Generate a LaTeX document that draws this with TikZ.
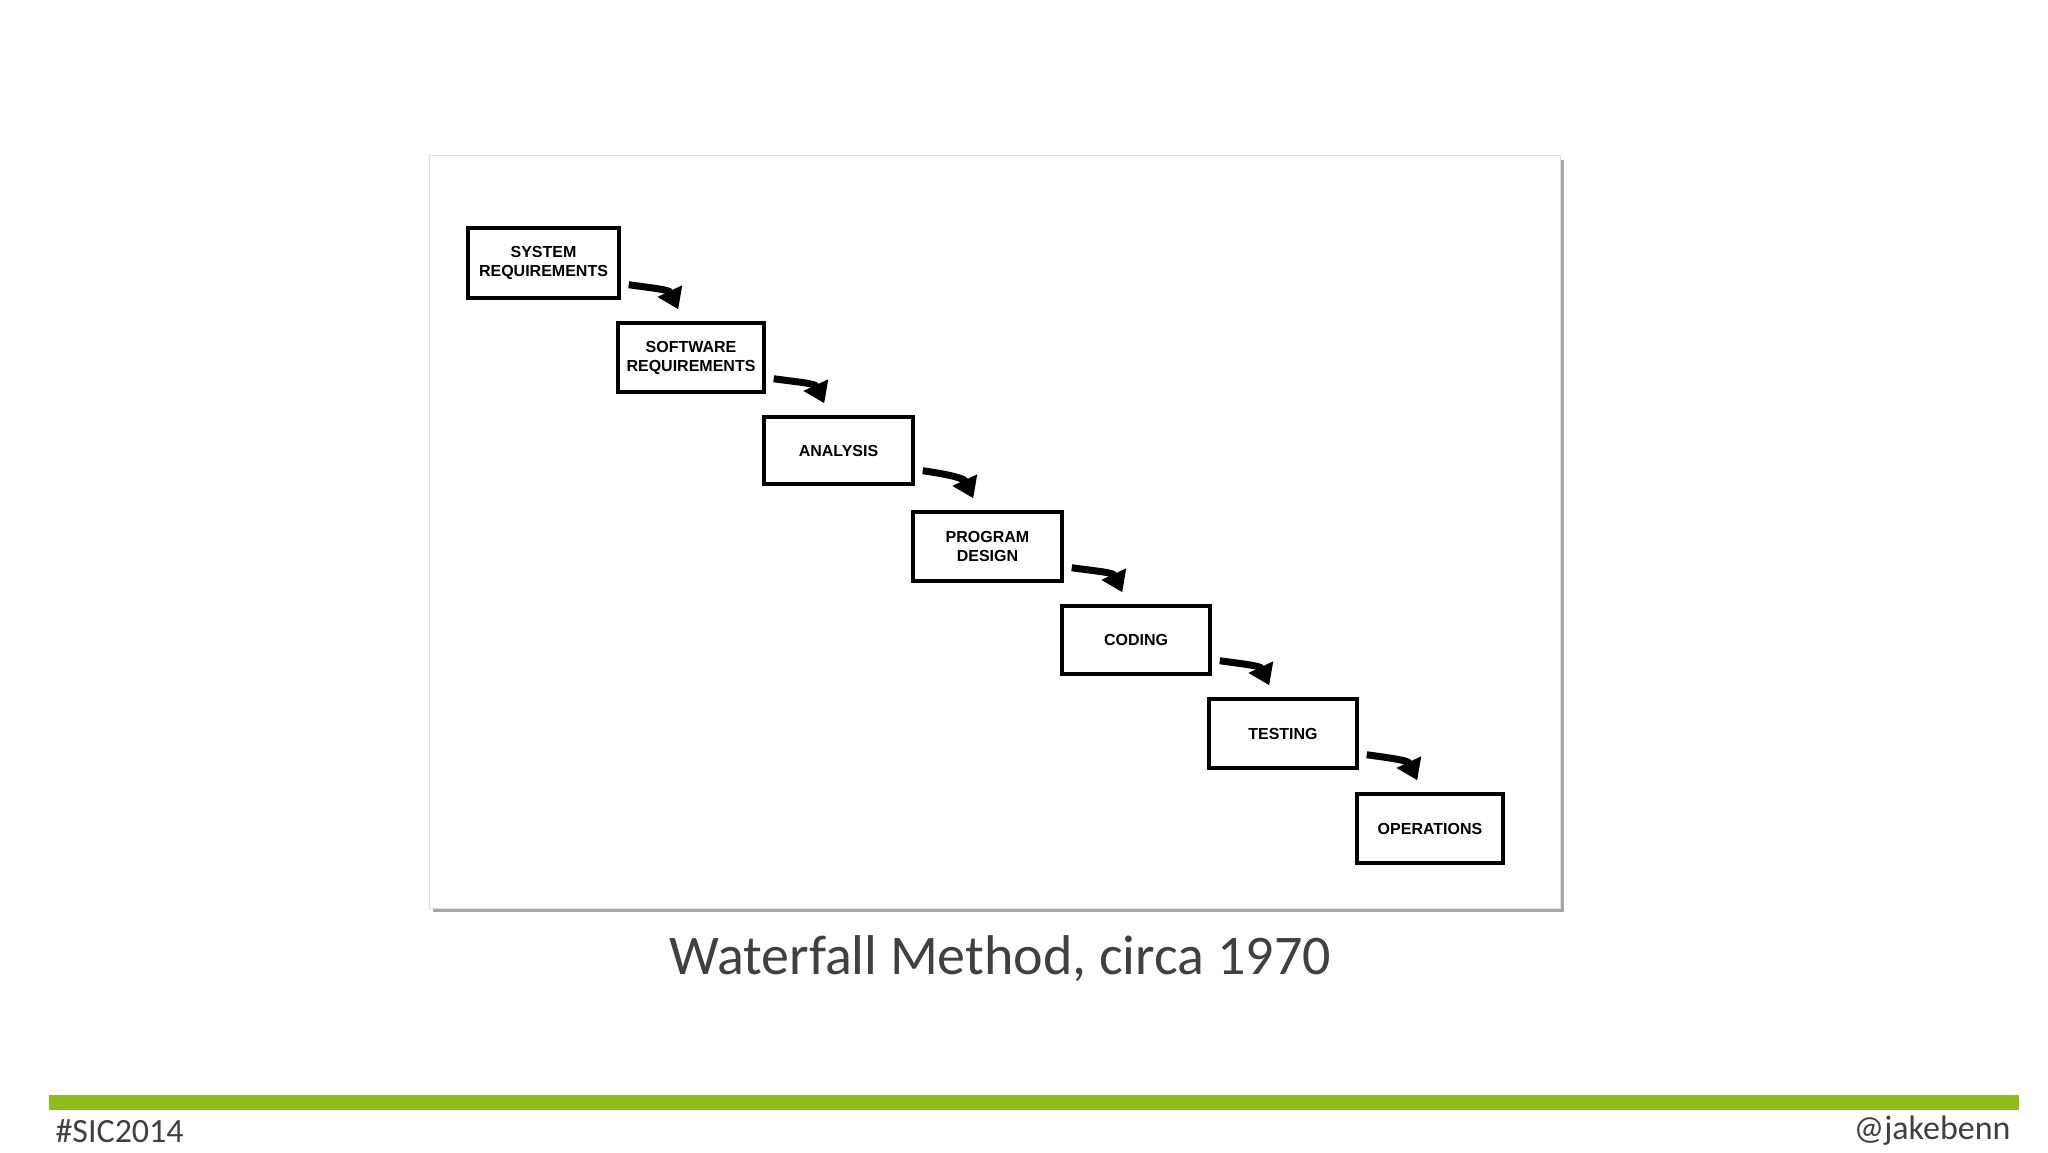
\documentclass[tikz,border=0pt]{standalone}
\usepackage{fontspec}
\setmainfont{Carlito}
\newfontfamily\boxfont{Liberation Sans}
\usetikzlibrary{arrows.meta,calc}
\definecolor{barg}{HTML}{8FBE1B}
\definecolor{txtg}{HTML}{404040}
\tikzset{
 stage/.style={draw=black,line width=3.5pt,fill=white,inner sep=0pt,align=center,
   minimum width=148pt,minimum height=68pt,font=\boxfont\bfseries\fontsize{16}{19}\selectfont},
 flow/.style={line width=7pt,-{Triangle[length=20pt,width=26pt]}}
}
\begin{document}
\begin{tikzpicture}[x=1pt,y=1pt]
\useasboundingbox (0,0) rectangle (2048,1152);
\fill[white] (0,0) rectangle (2048,1152);
% frame
\fill[black!35] (433,{1152-912}) rectangle (1564,{1152-160});
\filldraw[fill=white,draw=black!12,line width=1pt] (429,{1152-908}) rectangle (1560,{1152-156});
\node[stage,minimum width=151pt,minimum height=70pt] (b1) at (543.5,{1152-263}) {SYSTEM\\REQUIREMENTS};
\node[stage,minimum width=146pt,minimum height=69pt] (b2) at (691,{1152-357.5}) {SOFTWARE\\REQUIREMENTS};
\node[stage,minimum width=149pt,minimum height=67pt] (b3) at (838.5,{1152-450.5}) {ANALYSIS};
\node[stage,minimum width=149pt,minimum height=69pt] (b4) at (987.5,{1152-546.5}) {PROGRAM\\DESIGN};
\node[stage] (b5) at (1136,{1152-640}) {CODING};
\node[stage,minimum height=69pt] (b6) at (1283,{1152-733.5}) {TESTING};
\node[stage,minimum width=146pt,minimum height=69pt] (b7) at (1430,{1152-828.5}) {OPERATIONS};
\foreach \a/\b in {b1/b2,b2/b3,b3/b4,b4/b5,b5/b6,b6/b7}{
  \coordinate (s\a) at ($(\a.south east)+(8pt,15pt)$);
  \coordinate (e\a) at ($(\b.north west)+(62pt,12pt)$);
  \draw[flow] (s\a) to[out=-8,in=115] (e\a);
}
\node[text=txtg,font=\fontsize{56}{60}\selectfont] (cap) at (1000,{1152-959}) {Waterfall Method, circa 1970};
\fill[barg] (49,{1152-1110}) rectangle (2019,{1152-1095});
\node[text=txtg,font=\fontsize{34}{38}\selectfont,anchor=west] (l) at (52,{1152-1131}) {\#SIC2014};
\node[text=txtg,font=\fontsize{34}{38}\selectfont,anchor=east] (r) at (2014,{1152-1131}) {@jakebenn};
\end{tikzpicture}
\end{document}
